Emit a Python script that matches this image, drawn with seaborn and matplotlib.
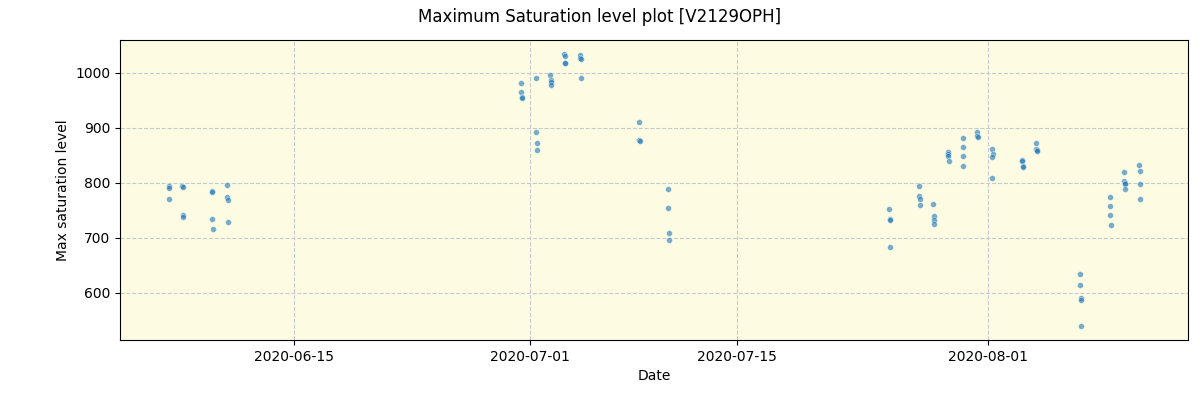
import numpy as np
import pandas as pd
import matplotlib
matplotlib.use("Agg")
import matplotlib.pyplot as plt
import matplotlib.dates as mdates
import seaborn as sns

obs_times = [
    "2020-06-06 13:00", "2020-06-06 13:10", "2020-06-06 13:20",
    "2020-06-07 10:30", "2020-06-07 10:40", "2020-06-07 10:50", "2020-06-07 11:00",
    "2020-06-09 11:00", "2020-06-09 11:10", "2020-06-09 11:20", "2020-06-09 11:30",
    "2020-06-10 11:30", "2020-06-10 11:40", "2020-06-10 11:50", "2020-06-10 12:00",
    "2020-06-30 09:20", "2020-06-30 09:30", "2020-06-30 09:40", "2020-06-30 09:50",
    "2020-07-01 09:50", "2020-07-01 10:00", "2020-07-01 10:10", "2020-07-01 10:20",
    "2020-07-02 08:40", "2020-07-02 08:50", "2020-07-02 09:00", "2020-07-02 09:10",
    "2020-07-03 07:30", "2020-07-03 07:40", "2020-07-03 07:50", "2020-07-03 08:00",
    "2020-07-04 09:20", "2020-07-04 09:30", "2020-07-04 09:40", "2020-07-04 09:50",
    "2020-07-08 09:10", "2020-07-08 09:20", "2020-07-08 09:30",
    "2020-07-10 08:20", "2020-07-10 08:30", "2020-07-10 08:40", "2020-07-10 08:50",
    "2020-07-25 07:40", "2020-07-25 07:50", "2020-07-25 08:00", "2020-07-25 08:10",
    "2020-07-27 08:20", "2020-07-27 08:30", "2020-07-27 08:40", "2020-07-27 08:50",
    "2020-07-28 07:10", "2020-07-28 07:20", "2020-07-28 07:30", "2020-07-28 07:40",
    "2020-07-29 07:20", "2020-07-29 07:30", "2020-07-29 07:40", "2020-07-29 07:50",
    "2020-07-30 07:10", "2020-07-30 07:00", "2020-07-30 07:00", "2020-07-30 07:20",
    "2020-07-31 06:40", "2020-07-31 06:50", "2020-07-31 07:00",
    "2020-08-01 07:00", "2020-08-01 07:30", "2020-08-01 07:00", "2020-08-01 07:00",
    "2020-08-03 07:40", "2020-08-03 07:50", "2020-08-03 08:00", "2020-08-03 08:10",
    "2020-08-04 06:30", "2020-08-04 06:40", "2020-08-04 06:50", "2020-08-04 07:00",
    "2020-08-07 06:00", "2020-08-07 06:10", "2020-08-07 07:00", "2020-08-07 07:10", "2020-08-07 06:20",
    "2020-08-09 06:40", "2020-08-09 06:50", "2020-08-09 07:00", "2020-08-09 07:10",
    "2020-08-10 05:30", "2020-08-10 05:40", "2020-08-10 05:50", "2020-08-10 06:00", "2020-08-10 06:10",
    "2020-08-11 06:00", "2020-08-11 06:10", "2020-08-11 06:20", "2020-08-11 06:30",
]
max_saturation = [
    795, 791, 770,
    794, 792, 742, 737,
    786, 784, 734, 716,
    796, 774, 769, 729,
    981, 965, 957, 955,
    990, 892, 872, 860,
    996, 988, 984, 979,
    1034, 1030, 1019, 1018,
    1033, 1028, 1026, 990,
    911, 878, 876,
    789, 754, 709, 696,
    752, 734, 732, 683,
    794, 776, 770, 760,
    761, 740, 732, 725,
    856, 852, 849, 840,
    881, 865, 849, 830,
    893, 886, 883,
    861, 852, 847, 809,
    842, 839, 830, 828,
    872, 862, 860, 858,
    634, 614, 590, 586, 540,
    774, 758, 741, 723,
    819, 803, 800, 798, 788,
    832, 821, 798, 770,
]

title_text = "Maximum Saturation level plot [V2129OPH]"
x_label = "Date"
y_label = "Max saturation level"

df = pd.DataFrame({"Date": pd.to_datetime(obs_times), "Max saturation level": max_saturation})

fig = plt.figure(figsize=(12, 4), dpi=100)
ax = fig.add_axes([0.1, 0.15, 0.89, 0.75])
ax.set_facecolor("#fdfce3")
sns.scatterplot(data=df, x="Date", y="Max saturation level", ax=ax,
                color="tab:blue", alpha=0.6, s=18, edgecolor="white",
                linewidth=0.4, zorder=3)

ax.set_xlim(pd.Timestamp("2020-06-03 05:00"), pd.Timestamp("2020-08-14 13:00"))
ax.set_ylim(514, 1060)
ax.set_yticks([600, 700, 800, 900, 1000])
ax.xaxis.set_major_locator(mdates.DayLocator(bymonthday=[1, 15]))
ax.xaxis.set_major_formatter(mdates.DateFormatter("%Y-%m-%d"))
ax.grid(True, linestyle="--", color="#c8c8d0", linewidth=0.8, zorder=0)
ax.set_axisbelow(True)
ax.set_xlabel(x_label)
ax.set_ylabel(y_label)
fig.suptitle(title_text, fontsize=12, y=0.981)

fig.savefig("out.png", dpi=100)
